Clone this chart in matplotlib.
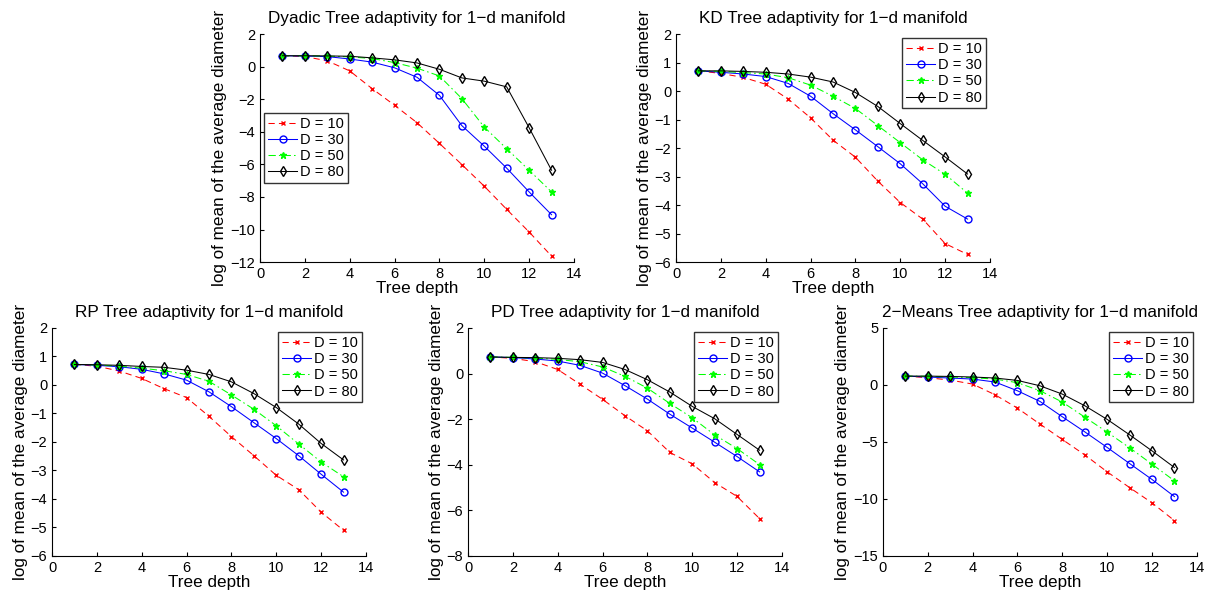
import matplotlib.pyplot as plt

plt.rcParams['font.family'] = ['Liberation Sans', 'DejaVu Sans']

depth = list(range(1, 14))
dims = ['D = 10', 'D = 30', 'D = 50', 'D = 80']

# log of mean of the average diameter, per tree type, per D
dyadic = [
    [0.67, 0.62, 0.36, -0.26, -1.35, -2.37, -3.44, -4.71, -6.01, -7.34, -8.76, -10.15, -11.63],
    [0.67, 0.65, 0.62, 0.47, 0.28, -0.07, -0.65, -1.76, -3.62, -4.88, -6.23, -7.69, -9.09],
    [0.67, 0.67, 0.65, 0.60, 0.50, 0.25, -0.09, -0.57, -1.96, -3.71, -5.04, -6.36, -7.69],
    [0.67, 0.67, 0.66, 0.64, 0.54, 0.42, 0.23, -0.16, -0.69, -0.89, -1.24, -3.75, -6.36],
]
kd = [
    [0.71, 0.62, 0.48, 0.24, -0.28, -0.94, -1.72, -2.32, -3.16, -3.91, -4.49, -5.35, -5.73],
    [0.71, 0.66, 0.60, 0.51, 0.27, -0.18, -0.79, -1.36, -1.95, -2.55, -3.25, -4.04, -4.49],
    [0.71, 0.69, 0.65, 0.60, 0.47, 0.21, -0.18, -0.61, -1.21, -1.81, -2.41, -2.92, -3.58],
    [0.71, 0.71, 0.69, 0.66, 0.60, 0.49, 0.32, -0.05, -0.54, -1.14, -1.73, -2.31, -2.91],
]
rp = [
    [0.72, 0.66, 0.49, 0.23, -0.13, -0.44, -1.10, -1.81, -2.48, -3.17, -3.67, -4.46, -5.10],
    [0.72, 0.69, 0.64, 0.55, 0.39, 0.17, -0.24, -0.76, -1.32, -1.88, -2.48, -3.13, -3.76],
    [0.72, 0.70, 0.66, 0.59, 0.50, 0.37, 0.13, -0.35, -0.85, -1.43, -2.07, -2.70, -3.22],
    [0.72, 0.71, 0.69, 0.65, 0.62, 0.52, 0.37, 0.11, -0.30, -0.79, -1.37, -2.05, -2.63],
]
pd_tree = [
    [0.73, 0.67, 0.52, 0.18, -0.47, -1.13, -1.85, -2.51, -3.46, -3.96, -4.78, -5.39, -6.36],
    [0.73, 0.70, 0.64, 0.55, 0.36, 0.02, -0.53, -1.12, -1.78, -2.39, -3.01, -3.64, -4.31],
    [0.73, 0.71, 0.68, 0.62, 0.52, 0.29, -0.12, -0.64, -1.31, -1.94, -2.69, -3.29, -3.99],
    [0.73, 0.71, 0.70, 0.67, 0.61, 0.49, 0.18, -0.27, -0.81, -1.44, -1.98, -2.67, -3.36],
]
means2 = [
    [0.78, 0.64, 0.43, 0.08, -0.86, -2.03, -3.43, -4.78, -6.13, -7.62, -9.00, -10.34, -11.90],
    [0.78, 0.70, 0.61, 0.52, 0.26, -0.51, -1.44, -2.79, -4.11, -5.48, -6.89, -8.29, -9.79],
    [0.78, 0.76, 0.70, 0.64, 0.52, 0.20, -0.50, -1.50, -2.82, -4.14, -5.51, -6.95, -8.41],
    [0.78, 0.78, 0.75, 0.70, 0.61, 0.40, -0.07, -0.80, -1.82, -3.02, -4.37, -5.78, -7.24],
]

titles = ['Dyadic Tree adaptivity for 1\u2212d manifold',
          'KD Tree adaptivity for 1\u2212d manifold',
          'RP Tree adaptivity for 1\u2212d manifold',
          'PD Tree adaptivity for 1\u2212d manifold',
          '2\u2212Means Tree adaptivity for 1\u2212d manifold']
all_data = [dyadic, kd, rp, pd_tree, means2]
ylims = [(-12, 2), (-6, 2), (-6, 2), (-8, 2), (-15, 5)]
ysteps = [2, 1, 1, 2, 5]

styles = [
    dict(color='red', linestyle=(0, (6, 4)), marker='x', markersize=3.5, markeredgewidth=1.0),
    dict(color='blue', linestyle='-', marker='o', markersize=5, markerfacecolor='none'),
    dict(color='#00ff00', linestyle=(0, (7, 3, 1.5, 3)), marker='*', markersize=4.5),
    dict(color='black', linestyle='-', marker='d', markersize=5, markerfacecolor='none'),
]

# axes rectangles in figure fractions
rects = [
    (0.214, 0.558, 0.2584, 0.3845),
    (0.5564, 0.558, 0.2584, 0.3845),
    (0.0428, 0.0624, 0.2584, 0.3845),
    (0.3852, 0.0624, 0.2584, 0.3845),
    (0.7267, 0.0624, 0.2584, 0.3845),
]

fig = plt.figure(figsize=(12.15, 5.93), dpi=100)

for i in range(5):
    ax = fig.add_axes(rects[i])
    for series, label, st in zip(all_data[i], dims, styles):
        ax.plot(depth, series, label=label, linewidth=0.75, **st)
    lo, hi = ylims[i]
    ax.set_xlim(0, 14)
    ax.set_ylim(lo, hi)
    ax.set_xticks(range(0, 15, 2))
    ax.set_yticks(range(lo, hi + 1, ysteps[i]))
    ax.set_yticklabels([str(v).replace('-', '\u2212') for v in range(lo, hi + 1, ysteps[i])])
    ax.spines['top'].set_visible(False)
    ax.spines['right'].set_visible(False)
    ax.tick_params(direction='in', length=3, labelsize=10.5)
    ax.set_title(titles[i], fontsize=12.3, pad=8)
    ax.set_xlabel('Tree depth', fontsize=12.3, labelpad=0)
    ax.set_ylabel('log of mean of the average diameter', fontsize=12.3, labelpad=2)
    if i == 0:
        leg = ax.legend(loc='center left', bbox_to_anchor=(0.0, 0.5), fontsize=10.5,
                        fancybox=False, edgecolor='black', handlelength=2.0,
                        borderpad=0.25, labelspacing=0.15, handletextpad=0.2,
                        borderaxespad=0.3)
    else:
        leg = ax.legend(loc='upper right', fontsize=10.5, fancybox=False,
                        edgecolor='black', handlelength=2.0, borderpad=0.25,
                        labelspacing=0.15, handletextpad=0.2, borderaxespad=0.3)
    leg.get_frame().set_linewidth(1.0)

fig.savefig('out.png', dpi=100)
